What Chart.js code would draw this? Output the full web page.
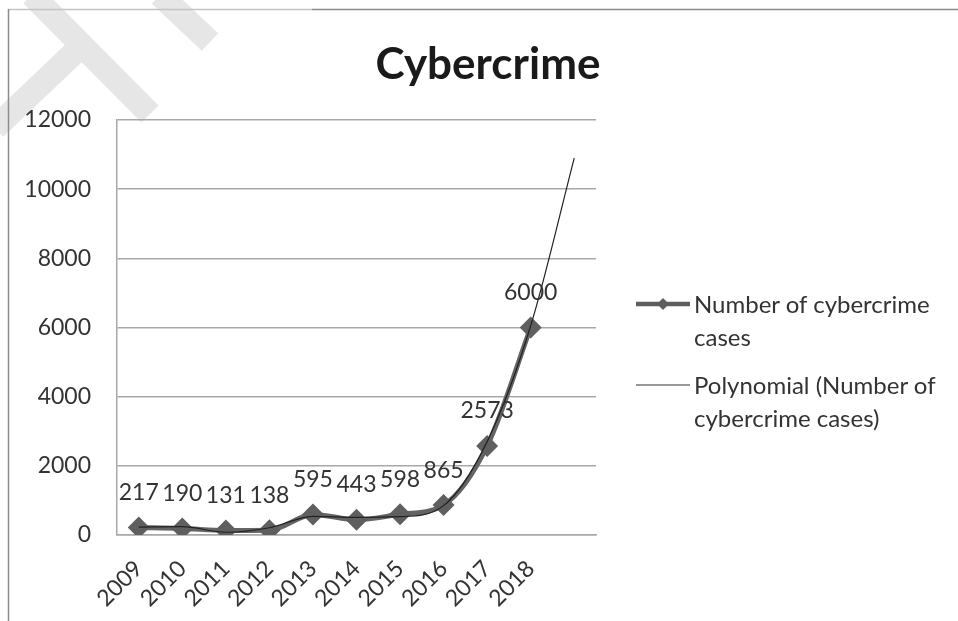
<!DOCTYPE html>
<html>
<head>
<meta charset="utf-8">
<script src="https://cdn.jsdelivr.net/npm/chart.js@4.4.1/dist/chart.umd.min.js"></script>
<style>
  html, body { margin: 0; padding: 0; background: #fff; }
  #wrap { position: relative; width: 958px; height: 621px; overflow: hidden; }
  #chart { position: absolute; left: 0; top: 0; }
  #title { position: absolute; left: 288px; width: 400px; top: 36px; text-align: center;
           font: bold 44px Lato, sans-serif; color: #1a1a1a; line-height: 52px; }
  .leg { position: absolute; font: 24px Lato, sans-serif; color: #333; line-height: 33px; white-space: nowrap; }
  .sw { position: absolute; }
</style>
</head>
<body>
<div id="wrap">
  <canvas id="chart" width="958" height="621"></canvas>
  <div id="title">Cybercrime</div>
  <svg class="sw" style="left:634px;top:292px" width="58" height="24">
    <line x1="2" y1="12" x2="56" y2="12" stroke="#5f5f5f" stroke-width="4.5"/>
    <polygon points="29,6 35,12 29,18 23,12" fill="#5f5f5f"/>
  </svg>
  <div class="leg" style="left:694px;top:287px">Number of cybercrime<br>cases</div>
  <svg class="sw" style="left:634px;top:373px" width="58" height="24">
    <line x1="2" y1="12" x2="56" y2="12" stroke="#333" stroke-width="1.2"/>
  </svg>
  <div class="leg" style="left:694px;top:368px">Polynomial (Number of<br>cybercrime cases)</div>
</div>
<script>
// values
const years = ['2009', '2010', '2011', '2012', '2013', '2014', '2015', '2016', '2017', '2018', ''];
const cases = [217, 190, 131, 138, 595, 443, 598, 865, 2573, 6000, null];
// polynomial trendline, estimated at each category (last one is the forward forecast)
const trend = [230, 240, 80, 210, 540, 510, 530, 850, 2700, 6050, 10900];
const yTicks = [0, 2000, 4000, 6000, 8000, 10000, 12000];

const FONT = 'Lato, sans-serif';
const gridGrey = '#a8a8a8';

// page frame and the faint watermark strokes behind the chart
const pageDecor = {
  id: 'pageDecor',
  beforeDraw(chart) {
    const { ctx } = chart;
    ctx.save();
    ctx.fillStyle = '#fff';
    ctx.fillRect(0, 0, chart.width, chart.height);
    ctx.strokeStyle = '#e6e6e6';
    ctx.lineWidth = 24;
    ctx.beginPath();
    ctx.moveTo(32, -5); ctx.lineTo(150, 114);
    ctx.moveTo(160, -5); ctx.lineTo(210, 42);
    ctx.moveTo(75, 52); ctx.lineTo(-5, 128);
    ctx.stroke();
    ctx.lineWidth = 1.5;
    ctx.strokeStyle = '#c4c4c4';
    ctx.beginPath(); ctx.moveTo(8, 9.5); ctx.lineTo(312, 9.5); ctx.stroke();
    ctx.strokeStyle = '#8c8c8c';
    ctx.beginPath(); ctx.moveTo(312, 9.5); ctx.lineTo(958, 9.5); ctx.stroke();
    ctx.beginPath(); ctx.moveTo(8.5, 9); ctx.lineTo(8.5, 621); ctx.stroke();
    ctx.restore();
  }
};

// value labels above the data points
const pointLabels = {
  id: 'pointLabels',
  afterDatasetsDraw(chart) {
    const { ctx } = chart;
    const meta = chart.getDatasetMeta(1);
    ctx.save();
    ctx.font = '23px ' + FONT;
    ctx.fillStyle = '#333';
    ctx.textAlign = 'center';
    ctx.textBaseline = 'middle';
    meta.data.forEach((pt, i) => {
      if (cases[i] == null) return;
      ctx.fillText(String(cases[i]), pt.x, pt.y - 35);
    });
    ctx.restore();
  }
};

new Chart(document.getElementById('chart'), {
  type: 'line',
  data: {
    labels: years,
    datasets: [{
      label: 'Polynomial (Number of cybercrime cases)',
      data: trend,
      borderColor: '#222',
      borderWidth: 1.2,
      pointRadius: 0,
      cubicInterpolationMode: 'monotone',
      order: 0
    }, {
      label: 'Number of cybercrime cases',
      data: cases,
      borderColor: '#646464',
      backgroundColor: '#5f5f5f',
      borderWidth: 5,
      pointStyle: 'rectRot',
      pointRadius: 11,
      pointBorderWidth: 0,
      pointBackgroundColor: '#5f5f5f',
      cubicInterpolationMode: 'monotone',
      order: 1
    }]
  },
  options: {
    responsive: false,
    animation: false,
    layout: { padding: { left: 0, right: 362, top: 120, bottom: 0 } },
    plugins: {
      legend: { display: false },
      tooltip: { enabled: false },
      title: { display: false }
    },
    scales: {
      x: {
        offset: true,
        grid: { display: false },
        border: { display: true, color: gridGrey, width: 1.5 },
        ticks: {
          color: '#333',
          font: { family: FONT, size: 23 },
          maxRotation: 45,
          minRotation: 45,
          autoSkip: false,
          padding: 12
        },
        afterFit(scale) { scale.height = 86; }
      },
      y: {
        min: 0,
        max: 12000,
        afterBuildTicks(scale) { scale.ticks = yTicks.map(v => ({ value: v })); },
        grid: { color: gridGrey, lineWidth: 1.5, drawTicks: false },
        border: { display: true, color: gridGrey, width: 1.5 },
        ticks: {
          color: '#333',
          font: { family: FONT, size: 23 },
          padding: 26,
          callback: v => String(v)
        },
        afterFit(scale) { scale.width = 117; }
      }
    }
  },
  plugins: [pageDecor, pointLabels]
});
</script>
</body>
</html>
